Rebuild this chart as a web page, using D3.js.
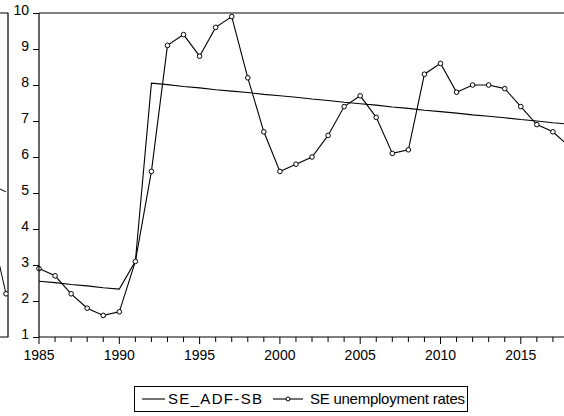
<!DOCTYPE html>
<html>
<head>
<meta charset="utf-8">
<script src="https://cdn.jsdelivr.net/npm/d3@7/dist/d3.min.js"></script>
<style>
  html, body { margin: 0; padding: 0; background: #fff; }
  svg { display: block; font-family: "Liberation Sans", Arial, Helvetica, sans-serif; }
</style>
</head>
<body>
<svg id="chart" width="564" height="416"></svg>
<script>
// Years on the horizontal axis
const years = [1985, 1986, 1987, 1988, 1989, 1990, 1991, 1992, 1993, 1994, 1995, 1996,
  1997, 1998, 1999, 2000, 2001, 2002, 2003, 2004, 2005, 2006, 2007, 2008, 2009,
  2010, 2011, 2012, 2013, 2014, 2015, 2016, 2017, 2018];

// Swedish unemployment rate (%)
const unemployment = [2.9, 2.7, 2.2, 1.8, 1.6, 1.7, 3.1, 5.6, 9.1, 9.4, 8.8, 9.6,
  9.9, 8.2, 6.7, 5.6, 5.8, 6.0, 6.6, 7.4, 7.7, 7.1, 6.1, 6.2, 8.3,
  8.6, 7.8, 8.0, 8.0, 7.9, 7.4, 6.9, 6.7, 6.3];

// Fitted ADF structural-break trend
const adfSB = [2.55, 2.51, 2.46, 2.42, 2.37, 2.33, 3.1, 8.05, 8.01, 7.96, 7.92, 7.87,
  7.83, 7.79, 7.74, 7.70, 7.66, 7.61, 7.57, 7.52, 7.48, 7.44, 7.39, 7.35, 7.30,
  7.26, 7.22, 7.17, 7.13, 7.09, 7.04, 7.00, 6.95, 6.91];

// Tail end of the neighbouring panel (last two years only)
const prevYears = [2017, 2018];
const prevRates = [4.17, 2.2];
const prevTrend = [5.25, 5.03];

const yTicks = [1, 2, 3, 4, 5, 6, 7, 8, 9, 10];
const xMajor = [1985, 1990, 1995, 2000, 2005, 2010, 2015];
const legendLabels = ["SE_ADF-SB", "SE unemployment rates"];

const W = 564, H = 416;
const svg = d3.select("#chart");

const plot = { left: 39, top: 13, bottom: 337 };
const pxPerYear = 16.06;

const x = d3.scaleLinear().domain([1985, 2018]).range([plot.left, plot.left + 33 * pxPerYear]);
const y = d3.scaleLinear().domain([1, 10]).range([plot.bottom, plot.top]);

svg.append("defs").append("clipPath").attr("id", "view")
  .append("rect").attr("x", 0).attr("y", 0).attr("width", W).attr("height", H);
svg.append("defs").append("clipPath").attr("id", "prevClip")
  .append("rect").attr("x", 0).attr("y", plot.top).attr("width", 8).attr("height", plot.bottom - plot.top);

// ---- neighbouring panel remnant on the far left ----
const prevRight = 8;
const xPrev = d3.scaleLinear().domain([2017, 2018]).range([6 - pxPerYear, 6]);
const prevG = svg.append("g");
prevG.append("path")
  .attr("d", `M0,${plot.top}H${prevRight}V${plot.bottom}H0`)
  .attr("fill", "none").attr("stroke", "#000").attr("stroke-width", 1.2);
const pc = prevG.append("g").attr("clip-path", "url(#prevClip)");
pc.append("path").datum(prevYears.map((d, i) => [d, prevTrend[i]]))
  .attr("d", d3.line().x(d => xPrev(d[0])).y(d => y(d[1])))
  .attr("fill", "none").attr("stroke", "#000").attr("stroke-width", 1);
pc.append("path").datum(prevYears.map((d, i) => [d, prevRates[i]]))
  .attr("d", d3.line().x(d => xPrev(d[0])).y(d => y(d[1])))
  .attr("fill", "none").attr("stroke", "#000").attr("stroke-width", 1);
pc.selectAll("circle").data(prevYears.map((d, i) => [d, prevRates[i]]))
  .join("circle")
  .attr("cx", d => xPrev(d[0])).attr("cy", d => y(d[1])).attr("r", 2.3)
  .attr("fill", "#fff").attr("stroke", "#000").attr("stroke-width", 1);

// ---- main panel ----
const main = svg.append("g").attr("clip-path", "url(#view)");

// frame: top border
main.append("line")
  .attr("x1", plot.left).attr("x2", x(2018) + 10)
  .attr("y1", plot.top).attr("y2", plot.top)
  .attr("stroke", "#000").attr("stroke-width", 1.2);

// y axis
const yAxis = d3.axisLeft(y).tickValues(yTicks).tickSize(6).tickPadding(4).tickFormat(d3.format("d"));
const yg = svg.append("g").attr("transform", `translate(${plot.left},0)`).call(yAxis);
yg.select(".domain").attr("d", `M0,${plot.top}V${plot.bottom}`).attr("stroke-width", 1.2);
yg.selectAll(".tick text").attr("dy", "0.1em").style("font-size", "14px");

// x axis: minor yearly ticks and major 5-year ticks
const xg = main.append("g").attr("transform", `translate(0,${plot.bottom})`);
xg.append("line").attr("x1", plot.left).attr("x2", x(2018) + 10)
  .attr("y1", 0).attr("y2", 0).attr("stroke", "#000").attr("stroke-width", 1.2);
xg.selectAll("line.minor").data(years.filter(d => !xMajor.includes(d)))
  .join("line").attr("class", "minor")
  .attr("x1", d => x(d)).attr("x2", d => x(d)).attr("y1", 0).attr("y2", 5)
  .attr("stroke", "#000");
xg.selectAll("line.major").data(xMajor)
  .join("line").attr("class", "major")
  .attr("x1", d => x(d)).attr("x2", d => x(d)).attr("y1", 0).attr("y2", 7)
  .attr("stroke", "#000");
xg.selectAll("text").data(xMajor)
  .join("text")
  .attr("x", d => x(d)).attr("y", 22.5)
  .attr("text-anchor", "middle").style("font-size", "14px").attr("fill", "#000")
  .text(d => d);

// series
const lineGen = d3.line().x(d => x(d[0])).y(d => y(d[1]));
const adfData = years.map((d, i) => [d, adfSB[i]]);
const unData = years.map((d, i) => [d, unemployment[i]]);

main.append("path").datum(adfData).attr("d", lineGen)
  .attr("fill", "none").attr("stroke", "#000").attr("stroke-width", 1.1);
main.append("path").datum(unData).attr("d", lineGen)
  .attr("fill", "none").attr("stroke", "#000").attr("stroke-width", 1.1);
main.selectAll("circle.pt").data(unData).join("circle").attr("class", "pt")
  .attr("cx", d => x(d[0])).attr("cy", d => y(d[1])).attr("r", 2.3)
  .attr("fill", "#fff").attr("stroke", "#000").attr("stroke-width", 1);

// ---- legend ----
const lg = svg.append("g");
lg.append("rect").attr("x", 134.5).attr("y", 386.5).attr("width", 333).attr("height", 25)
  .attr("fill", "#fff").attr("stroke", "#000").attr("stroke-width", 1);
const ly = 399;
lg.append("line").attr("x1", 142).attr("x2", 165).attr("y1", ly).attr("y2", ly)
  .attr("stroke", "#000").attr("stroke-width", 1.1);
lg.append("text").attr("x", 168).attr("y", ly + 5).style("font-size", "15px")
  .attr("textLength", 94).attr("lengthAdjust", "spacing").text(legendLabels[0]);
lg.append("line").attr("x1", 273).attr("x2", 303).attr("y1", ly).attr("y2", ly)
  .attr("stroke", "#000").attr("stroke-width", 1.1);
lg.append("circle").attr("cx", 288).attr("cy", ly).attr("r", 2)
  .attr("fill", "#fff").attr("stroke", "#000").attr("stroke-width", 1);
lg.append("text").attr("x", 310).attr("y", ly + 5).style("font-size", "15px")
  .attr("textLength", 155).attr("lengthAdjust", "spacing").text(legendLabels[1]);
</script>
</body>
</html>
